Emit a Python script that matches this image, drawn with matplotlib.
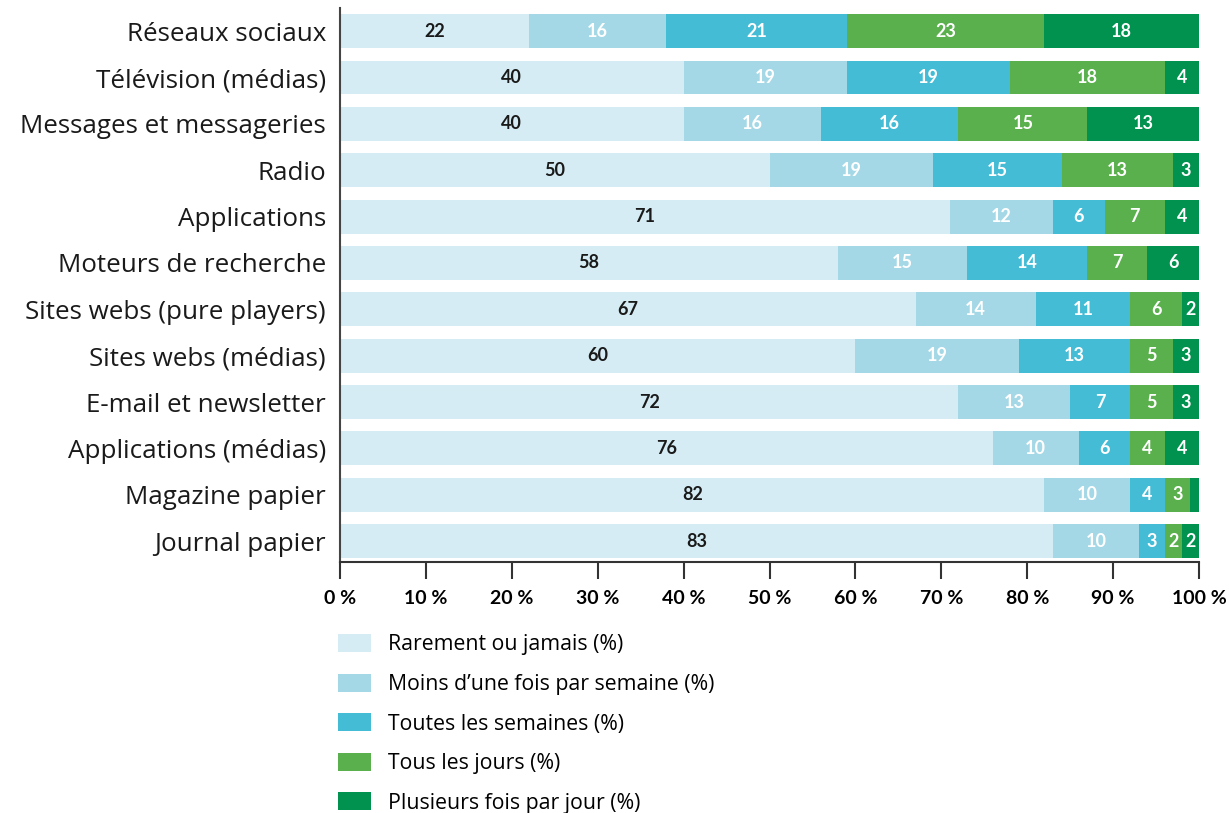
import numpy as np
import matplotlib
import matplotlib.pyplot as plt

matplotlib.rcParams['font.family'] = ['Open Sans', 'DejaVu Sans']

# data
categories = ["Réseaux sociaux", "Télévision (médias)", "Messages et messageries",
              "Radio", "Applications", "Moteurs de recherche",
              "Sites webs (pure players)", "Sites webs (médias)",
              "E-mail et newsletter", "Applications (médias)",
              "Magazine papier", "Journal papier"]
rarement   = [22, 40, 40, 50, 71, 58, 67, 60, 72, 76, 82, 83]
moins      = [16, 19, 16, 19, 12, 15, 14, 19, 13, 10, 10, 10]
semaines   = [21, 19, 16, 15,  6, 14, 11, 13,  7,  6,  4,  3]
jours      = [23, 18, 15, 13,  7,  7,  6,  5,  5,  4,  3,  2]
plusieurs  = [18,  4, 13,  3,  4,  6,  2,  3,  3,  4,  1,  2]
series_labels = ["Rarement ou jamais (%)", "Moins d\u2019une fois par semaine (%)",
                 "Toutes les semaines (%)", "Tous les jours (%)",
                 "Plusieurs fois par jour (%)"]
xticks = [0, 10, 20, 30, 40, 50, 60, 70, 80, 90, 100]

colors = ['#d5ecf4', '#a5d8e6', '#45bcd6', '#5ab04c', '#00924e']
text_colors = ['#1a1a1a', 'white', 'white', 'white', 'white']

fig = plt.figure(figsize=(12.29, 8.13), dpi=100)
ax = fig.add_axes([340/1229, 1-562/813, (1199-340)/1229, (562-8)/813])

y = np.arange(len(categories))
left = np.zeros(len(categories))
series = [rarement, moins, semaines, jours, plusieurs]
for vals, c, tc, lab in zip(series, colors, text_colors, series_labels):
    vals = np.array(vals, dtype=float)
    bars = ax.barh(y, vals, left=left, height=0.73, color=c, label=lab)
    # value labels, skipped for the tiny segments
    for b, v in zip(bars, vals):
        if v >= 2:
            ax.text(b.get_x() + b.get_width()/2, b.get_y() + b.get_height()/2,
                    f"{int(v)}", ha='center', va='center', color=tc,
                    fontsize=13, fontweight='bold', family=['Lato', 'DejaVu Sans'])
    left += vals

ax.set_xlim(0, 100)
ax.set_ylim(len(categories) - 0.55, -0.5)
ax.set_yticks(y)
ax.set_yticklabels(categories, fontsize=18.7, color='#1a1a1a')
ax.tick_params(axis='y', length=0, pad=10)
ax.set_xticks(xticks)
ax.set_xticklabels([f"{t} %" for t in xticks],
                   fontsize=14, fontweight='bold', family=['Lato', 'DejaVu Sans'])
ax.tick_params(axis='x', length=12, width=1.5, color='#333333', pad=8)

for s in ['top', 'right']:
    ax.spines[s].set_visible(False)
ax.spines['left'].set_linewidth(1.5)
ax.spines['left'].set_color('#444444')
ax.spines['bottom'].set_linewidth(1.5)
ax.spines['bottom'].set_color('#333333')

handles, labels = ax.get_legend_handles_labels()
fig.legend(handles, labels, loc='upper left',
           bbox_to_anchor=(338/1229, 1-634/813), frameon=False,
           fontsize=15.3, handlelength=1.55, handleheight=0.95,
           labelspacing=0.85, handletextpad=0.8, borderpad=0, borderaxespad=0)

plt.savefig('out.png', dpi=100)
